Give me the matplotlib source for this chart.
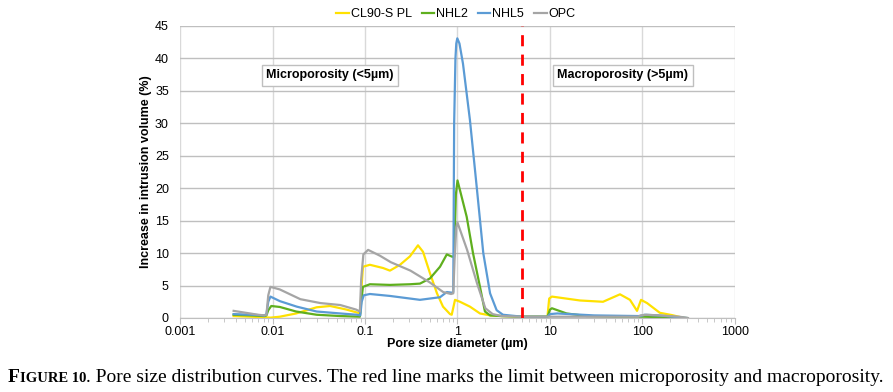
import numpy as np
import matplotlib
matplotlib.use("Agg")
import matplotlib.pyplot as plt

# pore diameter (um) / increase in intrusion volume (%)
cl90_x = [0.0038, 0.006, 0.0085, 0.0095, 0.012, 0.018, 0.030, 0.042, 0.063, 0.084, 0.089,
          0.092, 0.095, 0.113, 0.157, 0.186, 0.239, 0.306, 0.374, 0.424, 0.504, 0.600, 0.697,
          0.830, 0.866, 0.940, 1.064, 1.363, 1.75, 2.25, 3.0, 5.0, 9.0, 9.4, 9.8, 10.5, 21.1,
          37.4, 57.1, 73.2, 87.3, 96.4, 112, 154, 208, 281]
cl90_y = [0.3, 0.2, 0.1, 0.05, 0.2, 0.7, 1.65, 1.85, 1.3, 0.8, 0.7,
          5.0, 7.9, 8.2, 7.7, 7.3, 8.2, 9.5, 11.2, 10.2, 6.9, 3.8, 1.75,
          0.6, 0.5, 2.8, 2.5, 1.75, 0.7, 0.4, 0.3, 0.2, 0.2, 0.3, 3.0, 3.3, 2.7,
          2.5, 3.65, 2.8, 1.1, 2.8, 2.3, 0.8, 0.45, 0.0]

nhl2_x = [0.0038, 0.006, 0.0082, 0.0086, 0.009, 0.0097, 0.012, 0.018, 0.030, 0.054, 0.088,
          0.091, 0.095, 0.113, 0.186, 0.306, 0.393, 0.504, 0.647, 0.766, 0.874, 0.92,
          0.96, 1.0, 1.257, 1.471, 1.75, 1.98, 2.25, 3.0, 5.0, 9.0, 9.4, 10.0, 10.5,
          15.1, 25, 50, 100, 200, 300]
nhl2_y = [0.5, 0.4, 0.3, 0.4, 1.2, 1.85, 1.7, 1.0, 0.5, 0.3, 0.2,
          2.5, 4.8, 5.2, 5.1, 5.2, 5.3, 6.1, 7.9, 9.8, 9.45, 9.5,
          19.0, 21.2, 15.6, 10.0, 4.8, 1.0, 0.4, 0.3, 0.2, 0.2, 0.2, 1.3, 1.5,
          0.7, 0.3, 0.2, 0.2, 0.1, 0.0]

nhl5_x = [0.0038, 0.006, 0.0082, 0.0086, 0.009, 0.0095, 0.012, 0.0183, 0.030, 0.054, 0.082,
          0.089, 0.092, 0.097, 0.113, 0.186, 0.306, 0.393, 0.504, 0.647, 0.766, 0.874,
          0.90, 0.92, 0.95, 0.97, 0.995, 1.05, 1.146, 1.363, 1.613, 1.90, 2.25, 2.65, 3.1,
          5.0, 9.0, 9.4, 10.0, 12.0, 30, 90, 95, 105, 150, 250, 300]
nhl5_y = [0.6, 0.5, 0.4, 0.6, 2.5, 3.3, 2.6, 1.75, 1.0, 0.7, 0.5,
          0.4, 2.5, 3.5, 3.7, 3.4, 3.0, 2.8, 3.0, 3.2, 4.0, 3.9,
          4.0, 30.0, 40.0, 42.3, 43.1, 42.3, 39.2, 30.5, 20.2, 10.0, 3.8, 1.2, 0.5,
          0.2, 0.2, 0.2, 0.6, 0.7, 0.4, 0.3, 0.3, 0.5, 0.4, 0.1, 0.0]

opc_x = [0.0038, 0.0057, 0.007, 0.0082, 0.0086, 0.009, 0.0095, 0.012, 0.020, 0.033, 0.054,
         0.080, 0.088, 0.091, 0.096, 0.108, 0.145, 0.19, 0.31, 0.50, 0.70, 0.85, 0.90,
         0.93, 0.97, 1.0, 1.27, 1.63, 2.0, 2.4, 3.0, 5.0, 9.0, 20, 50, 90, 95, 110, 150,
         250, 310]
opc_y = [1.1, 0.7, 0.5, 0.4, 0.5, 3.5, 4.8, 4.4, 2.9, 2.3, 2.0,
         1.3, 1.0, 6.0, 9.8, 10.5, 9.6, 8.6, 7.3, 5.5, 4.0, 3.7, 3.8,
         9.0, 14.0, 14.7, 10.5, 5.3, 1.5, 0.6, 0.3, 0.2, 0.2, 0.2, 0.2, 0.2, 0.4, 0.5, 0.4,
         0.2, 0.0]

series = [("CL90-S PL", cl90_x, cl90_y, "#FFE100"),
          ("NHL2", nhl2_x, nhl2_y, "#5FAF1E"),
          ("NHL5", nhl5_x, nhl5_y, "#5B9BD5"),
          ("OPC", opc_x, opc_y, "#A5A5A5")]

limit_um = 5
xticks = [0.001, 0.01, 0.1, 1, 10, 100, 1000]
xticklabels = ["0.001", "0.01", "0.1", "1", "10", "100", "1000"]

plt.rcParams['font.family'] = ['Liberation Sans', 'DejaVu Sans']

fig = plt.figure(figsize=(8.93, 3.92), dpi=100)
ax = fig.add_axes([180 / 893, 1 - 318 / 392, 555 / 893, 292 / 392])

for name, xs, ys, col in series:
    ax.plot(xs, ys, color=col, lw=1.6, label=name, solid_joinstyle='round')

ax.axvline(limit_um, color="#FF0000", lw=2, ls=(0, (4, 3)), zorder=5)

ax.set_xscale("log")
ax.set_xlim(0.001, 1000)
ax.set_ylim(0, 45)
ax.set_yticks(np.arange(0, 46, 5))
ax.set_xticks(xticks)
ax.set_xticklabels(xticklabels)
ax.grid(axis="y", color="#BFBFBF", lw=1)
ax.grid(axis="x", which="major", color="#D9D9D9", lw=1)
ax.set_axisbelow(True)
for s in ["top", "right", "left"]:
    ax.spines[s].set_visible(False)
ax.spines["bottom"].set_color("#BFBFBF")
ax.tick_params(axis="y", length=0, labelsize=9, pad=8)
ax.tick_params(axis="x", which="both", direction="out", color="#BFBFBF", labelsize=9, pad=2)
ax.tick_params(axis="x", which="major", length=4)
ax.tick_params(axis="x", which="minor", length=3)

ax.set_xlabel("Pore size diameter (µm)", fontsize=9, fontweight="bold", labelpad=0)
ax.set_ylabel("Increase in intrusion volume (%)", fontsize=9, fontweight="bold", labelpad=2)

box = dict(boxstyle="square,pad=0.35", fc="white", ec="#BFBFBF", lw=1)
ax.text(0.042, 37.4, "Microporosity (<5µm)", fontsize=9, fontweight="bold",
        ha="center", va="center", bbox=box, zorder=6)
ax.text(61.5, 37.4, "Macroporosity (>5µm)", fontsize=9, fontweight="bold",
        ha="center", va="center", bbox=box, zorder=6)

fig.legend(loc="center", bbox_to_anchor=(456 / 893, 1 - 14 / 392), ncol=4, frameon=False,
           fontsize=9, handlelength=1.0, handletextpad=0.15, columnspacing=0.8)

# caption: small-caps style "FIGURE 10"
fig.canvas.draw()
r = fig.canvas.get_renderer()
cy = 1 - 382 / 392
x0 = 8 / 893
parts = [("F", 14, "bold"), ("IGURE 10", 10.5, "bold"),
         (". Pore size distribution curves. The red line marks the limit between "
          "microporosity and macroporosity.", 14, "normal")]
for txt, size, wt in parts:
    t = fig.text(x0, cy, txt, fontsize=size, fontweight=wt, family="Liberation Serif",
                 ha="left", va="baseline")
    bb = t.get_window_extent(renderer=r)
    x0 = bb.x1 / fig.bbox.width

fig.savefig("out.png", dpi=100)
